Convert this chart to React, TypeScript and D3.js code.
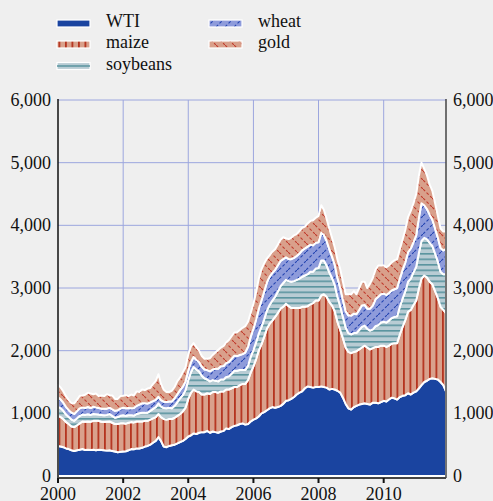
import React from "react";
import * as d3 from "d3";

// ---- DATA (monthly, Jan 2000 – Dec 2011) ----
const seriesNames = ["WTI", "maize", "soybeans", "wheat", "gold"];

const wti = [
  480, 470, 460, 440, 430, 410, 400, 410, 420, 430, 415, 420,
  415, 420, 410, 420, 415, 410, 405, 410, 400, 390, 380, 385,
  390, 395, 410, 430, 425, 440, 440, 450, 470, 480, 500, 530,
  560, 620, 560, 470, 460, 480, 490, 500, 520, 540, 560, 590,
  630, 650, 680, 670, 690, 700, 700, 720, 690, 710, 700, 690,
  710, 720, 760, 750, 780, 800, 810, 830, 840, 820, 830, 870,
  900, 920, 950, 1000, 1020, 1050, 1080, 1100, 1090, 1100, 1120, 1150,
  1200, 1210, 1230, 1260, 1300, 1330, 1350, 1400, 1430, 1420, 1410, 1420,
  1420, 1430, 1420, 1410, 1380, 1390, 1380, 1360, 1330, 1250, 1150, 1080,
  1060, 1100, 1120, 1140, 1150, 1160, 1150, 1140, 1170, 1170, 1160, 1180,
  1200, 1190, 1220, 1250, 1240, 1220, 1260, 1280, 1290, 1320, 1300, 1330,
  1350, 1400, 1450, 1500, 1520, 1550, 1560, 1550, 1540, 1500, 1450, 1350,
];

const maize = [
  480, 470, 450, 420, 400, 380, 380, 400, 420, 440, 450, 450,
  450, 460, 470, 460, 450, 450, 460, 460, 450, 440, 450, 455,
  450, 440, 440, 430, 430, 430, 430, 420, 410, 400, 400, 390,
  380, 370, 380, 440, 440, 430, 420, 430, 440, 450, 470, 500,
  600, 680, 700, 680, 650, 600, 600, 600, 620, 630, 640, 640,
  640, 630, 620, 630, 620, 620, 610, 620, 630, 650, 700, 780,
  850, 950, 1050, 1100, 1200, 1300, 1350, 1380, 1450, 1500, 1550, 1550,
  1550, 1500, 1450, 1420, 1380, 1350, 1350, 1300, 1280, 1320, 1350, 1380,
  1380, 1450, 1480, 1450, 1400, 1330, 1250, 1100, 1000, 950, 900, 900,
  900, 880, 870, 880, 900, 920, 900, 880, 870, 890, 900, 900,
  880, 870, 860, 860, 880, 900, 1000, 1100, 1200, 1300, 1350, 1400,
  1450, 1600, 1700, 1700, 1650, 1550, 1500, 1400, 1300, 1200, 1200, 1250,
];

const soybeans = [
  145, 140, 130, 120, 110, 110, 100, 110, 120, 110, 110, 115,
  110, 110, 105, 100, 110, 110, 110, 120, 110, 100, 110, 120,
  130, 125, 120, 110, 110, 120, 130, 140, 130, 130, 140, 150,
  160, 170, 170, 175, 180, 180, 170, 190, 220, 250, 260, 280,
  300, 330, 360, 350, 330, 300, 260, 220, 200, 190, 180, 180,
  190, 190, 200, 210, 230, 260, 260, 240, 220, 220, 230, 250,
  260, 270, 270, 280, 280, 290, 300, 320, 320, 340, 360, 380,
  380, 400, 420, 430, 450, 470, 480, 500, 510, 520, 500, 510,
  520, 560, 540, 500, 470, 440, 420, 400, 380, 340, 320, 300,
  300, 300, 290, 310, 330, 320, 300, 300, 300, 330, 350, 370,
  380, 390, 400, 410, 420, 430, 440, 450, 460, 480, 500, 520,
  540, 570, 600, 600, 610, 620, 610, 600, 580, 560, 570, 620,
];

const wheat = [
  150, 140, 130, 120, 110, 110, 110, 115, 120, 115, 110, 115,
  110, 115, 110, 105, 100, 105, 100, 100, 105, 110, 110, 115,
  120, 120, 115, 110, 120, 130, 140, 150, 150, 145, 135, 125,
  115, 105, 100, 100, 100, 100, 110, 120, 125, 130, 135, 140,
  150, 160, 160, 155, 150, 145, 140, 150, 160, 170, 190, 200,
  210, 215, 220, 230, 240, 240, 235, 240, 255, 280, 300, 320,
  340, 360, 390, 420, 440, 450, 450, 440, 430, 420, 400, 380,
  360, 350, 360, 370, 380, 400, 420, 430, 440, 430, 420, 410,
  410, 440, 410, 390, 370, 340, 320, 300, 290, 270, 260, 280,
  300, 310, 300, 320, 340, 330, 320, 350, 380, 430, 450, 450,
  450, 440, 440, 440, 440, 450, 450, 460, 460, 470, 480, 480,
  500, 560, 600, 520, 480, 450, 420, 400, 380, 380, 380, 400,
];

const gold = [
  200, 190, 180, 170, 160, 150, 170, 180, 200, 190, 210, 230,
  230, 200, 220, 190, 210, 200, 230, 200, 220, 190, 180, 200,
  190, 210, 190, 220, 200, 230, 200, 220, 210, 240, 230, 270,
  300, 360, 260, 190, 160, 150, 170, 180, 210, 200, 230, 220,
  260, 250, 220, 200, 180, 170, 170, 180, 210, 230, 260, 300,
  300, 320, 330, 350, 360, 370, 380, 400, 420, 420, 400, 380,
  400, 440, 480, 500, 450, 380, 340, 340, 330, 330, 340, 350,
  300, 320, 340, 360, 350, 360, 360, 350, 370, 380, 400, 400,
  420, 440, 400, 350, 330, 300, 280, 290, 300, 290, 270, 340,
  340, 360, 320, 350, 380, 370, 330, 400, 440, 470, 500, 460,
  450, 440, 440, 450, 460, 460, 470, 480, 520, 560, 600, 620,
  660, 670, 650, 580, 540, 480, 460, 400, 350, 310, 300, 280,
];

const yTicks = [0, 1000, 2000, 3000, 4000, 5000, 6000];
const xTickYears = [2000, 2002, 2004, 2006, 2008, 2010];

const months = d3.timeMonth.range(new Date(2000, 0, 1), new Date(2012, 0, 1));

const FONT = "'Liberation Serif', 'Times New Roman', serif";
const BG = "#efefef";
const GRID = "#9ca6de";

const fills: Record<string, string> = {
  WTI: "#1a44a0",
  maize: "url(#pMaize)",
  soybeans: "url(#pSoy)",
  wheat: "url(#pWheat)",
  gold: "url(#pGold)",
};

export default function App() {
  const W = 493;
  const H = 501;
  const left = 58;
  const right = 446;
  const top = 100;
  const bottom = 476;

  const x = d3.scaleTime().domain([months[0], months[months.length - 1]]).range([left, right]);
  const y = d3.scaleLinear().domain([0, 6000]).range([bottom, top]);

  const table = months.map((d, i) => ({
    date: d,
    WTI: wti[i],
    maize: maize[i],
    soybeans: soybeans[i],
    wheat: wheat[i],
    gold: gold[i],
  }));
  const stacked = d3.stack<any>().keys(seriesNames)(table);
  const area = d3
    .area<any>()
    .x((d) => x(d.data.date))
    .y0((d) => y(d[0]))
    .y1((d) => y(d[1]));

  const fmt = d3.format(",");

  const legendItems = [
    { name: "WTI", sx: 57, tx: 106, cy: 23.5 },
    { name: "maize", sx: 57, tx: 106, cy: 44.5 },
    { name: "soybeans", sx: 57, tx: 106, cy: 66 },
    { name: "wheat", sx: 209, tx: 258, cy: 23.5 },
    { name: "gold", sx: 209, tx: 258, cy: 44.5 },
  ];

  return (
    <svg
      width={W}
      height={H}
      style={{ position: "absolute", left: 0, top: 0, display: "block" }}
      fontFamily={FONT}
    >
      <defs>
        <pattern id="pMaize" patternUnits="userSpaceOnUse" width="6.5" height="6">
          <rect width="6.5" height="6" fill="#d9a18c" />
          <rect x="0" y="0" width="1.8" height="6" fill="#b5341f" />
        </pattern>
        <pattern id="pSoy" patternUnits="userSpaceOnUse" width="6" height="5.5">
          <rect width="6" height="5.5" fill="#b8ccd4" />
          <rect x="0" y="0" width="6" height="1.6" fill="#5a949f" />
        </pattern>
        <pattern id="pWheat" patternUnits="userSpaceOnUse" width="9" height="9">
          <rect width="9" height="9" fill="#8e9bdb" />
          <line x1="0" y1="9" x2="9" y2="0" stroke="#2243b0" strokeWidth="1.1" strokeDasharray="3 2" />
        </pattern>
        <pattern id="pGold" patternUnits="userSpaceOnUse" width="9" height="9">
          <rect width="9" height="9" fill="#d9a08b" />
          <line x1="0" y1="0" x2="9" y2="9" stroke="#c0392b" strokeWidth="1.1" strokeDasharray="3 2" />
        </pattern>
      </defs>

      <rect width={W} height={H} fill={BG} />

      {/* grid */}
      {yTicks.filter((t) => t > 0).map((t) => (
        <line key={"gy" + t} x1={left} x2={right} y1={y(t)} y2={y(t)} stroke={GRID} strokeWidth={1} />
      ))}
      {xTickYears.filter((yr) => yr > 2000).map((yr) => {
        const xx = x(new Date(yr, 0, 1));
        return <line key={"gx" + yr} x1={xx} x2={xx} y1={top} y2={bottom} stroke={GRID} strokeWidth={1} />;
      })}

      {/* stacked areas */}
      {stacked.map((s) => (
        <path
          key={s.key}
          d={area(s) || ""}
          fill={fills[s.key]}
          stroke="#ffffff"
          strokeWidth={2}
          strokeLinejoin="round"
        />
      ))}

      {/* axes */}
      <line x1={left} x2={left} y1={top - 1} y2={bottom + 2} stroke="#111" strokeWidth={1.5} />
      <line x1={right} x2={right} y1={top - 1} y2={bottom + 2} stroke="#444" strokeWidth={1.5} />
      <line x1={left} x2={right} y1={bottom + 2} y2={bottom + 2} stroke="#444" strokeWidth={2} />
      {xTickYears.map((yr) => {
        const xx = x(new Date(yr, 0, 1));
        return (
          <g key={"xt" + yr}>
            <line x1={xx} x2={xx} y1={bottom + 2} y2={bottom + 7} stroke="#111" strokeWidth={2} />
            <text x={xx} y={500} textAnchor="middle" fontSize={18} fill="#111">
              {yr}
            </text>
          </g>
        );
      })}
      {yTicks.map((t) => (
        <g key={"yt" + t}>
          <text x={51} y={y(t) + 6} textAnchor="end" fontSize={18} fill="#111">
            {fmt(t)}
          </text>
          <text x={453} y={y(t) + 6} textAnchor="start" fontSize={18} fill="#111">
            {fmt(t)}
          </text>
        </g>
      ))}

      {/* legend */}
      {legendItems.map((it) => (
        <g key={"lg" + it.name}>
          {it.name === "soybeans" ? (
            <g>
              <rect x={it.sx} y={it.cy - 3.5} width={33} height={7} fill="#b8ccd4" stroke="#fff" strokeWidth={1.2} />
              <line x1={it.sx} x2={it.sx + 33} y1={it.cy} y2={it.cy} stroke="#5a949f" strokeWidth={1.5} />
            </g>
          ) : (
            <rect
              x={it.sx}
              y={it.cy - 3.5}
              width={33}
              height={7}
              fill={fills[it.name]}
              stroke="#fff"
              strokeWidth={1.2}
            />
          )}
          <text x={it.tx} y={it.cy + 3.5} fontSize={18} fill="#111">
            {it.name}
          </text>
        </g>
      ))}
    </svg>
  );
}
